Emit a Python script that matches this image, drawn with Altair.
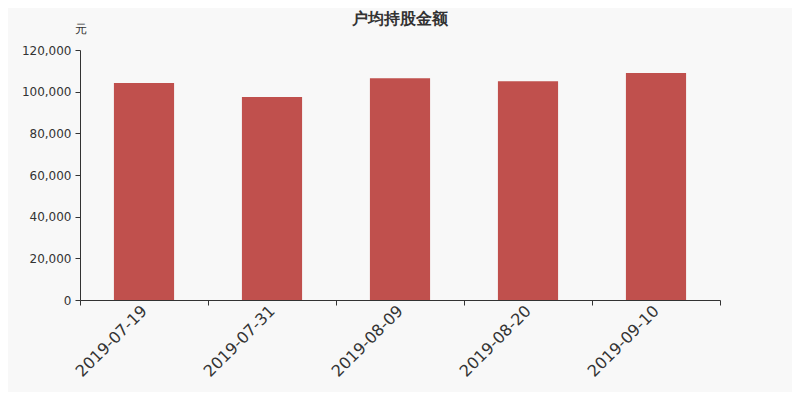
import altair as alt
import pandas as pd

dates = ["2019-07-19", "2019-07-31", "2019-08-09", "2019-08-20", "2019-09-10"]
values = [104200, 97400, 106400, 105000, 109000]

df = pd.DataFrame({"date": dates, "value": values})

FONT = "DejaVu Sans"

bars = alt.Chart(df).mark_bar(color="#c0504d", width=alt.RelativeBandSize(0.47)).encode(
    x=alt.X("date:N", sort=None, title=None,
            scale=alt.Scale(paddingInner=0, paddingOuter=0),
            axis=alt.Axis(labelAngle=-45, tickBand="extent", labelFontSize=16,
                          labelColor="#333333", domainColor="#333333", tickColor="#333333",
                          tickSize=5, labelPadding=3, labelFont=FONT,
                          labelAlign="right", labelBaseline="middle")),
    y=alt.Y("value:Q", title="元",
            scale=alt.Scale(domain=[0, 120000], nice=False),
            axis=alt.Axis(values=[0, 20000, 40000, 60000, 80000, 100000, 120000],
                          format=",d", grid=False, labelFontSize=12, labelColor="#333333",
                          domainColor="#333333", tickColor="#333333", tickSize=5,
                          labelFont=FONT, titleFont=FONT, titleFontSize=12,
                          titleFontWeight="normal", titleColor="#333333",
                          titleAngle=0, titleAlign="center", titleAnchor="end",
                          titleX=0, titleY=-15, labelPadding=4)),
)

chart = bars.properties(
    width=640, height=250,
    title=alt.TitleParams("户均持股金额", font=FONT, fontSize=16, fontWeight="bold",
                          color="#333333", anchor="middle", offset=-5),
    background="#f8f8f8",
    padding={"left": 72, "top": 42, "right": 72, "bottom": 92},
    autosize=alt.AutoSizeParams(type="none"),
).configure_view(stroke=None)

chart.save("out.html", embed_options={"renderer": "svg", "actions": False})
